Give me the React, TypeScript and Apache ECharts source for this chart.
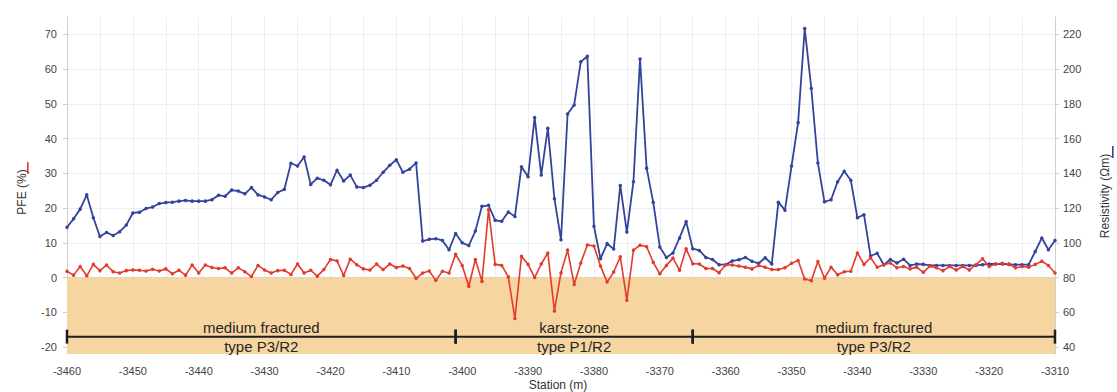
import React, { useEffect, useRef } from "react";
import * as echarts from "echarts";

// Station axis (m): first station and sampling step
const STATION_START = -3460;
const STATION_STEP = 1;

// PFE (%) per station, -3460 ... -3310
const PFE = [
  1.8, 0.7, 3.2, 0.5, 3.8, 2.0, 3.6, 1.7, 1.3, 2.0,
  2.2, 2.1, 1.9, 2.4, 1.9, 2.5, 1.1, 2.1, 0.7, 3.6,
  1.3, 3.6, 2.9, 2.6, 2.8, 1.3, 2.8, 1.7, 0.3, 3.5,
  2.2,
  1.3, 2.0, 2.1, 0.9, 3.9, 1.3, 2.1, 0.4, 2.3, 5.2,
  4.8, 0.6, 5.3, 3.7, 2.5, 2.2, 3.9, 2.3, 3.9, 2.9,
  3.3, 2.6, -0.2, 1.3, 1.9, -0.8, 1.8, 1.3, 6.7, 3.5,
  -2.5, 5.2, -1.1, 19.5, 3.8, 3.5, 0.2, -11.8, 6.1, 3.8,
  0.0, 3.9, 7.1, -9.6, 1.4, 7.9, -2.0, 4.2, 9.4, 9.1,
  3.3, -1.3, 1.6, 6.0, -6.5, 7.9, 9.3, 8.9, 4.4, 1.1,
  3.5, 5.6, 2.1, 8.3, 4.0, 3.9, 2.6, 2.6, 1.4, 3.7,
  3.6, 3.3, 3.0, 2.5, 3.5, 3.0, 2.3, 2.3, 2.8, 4.1,
  4.9, -0.4, -0.9, 4.6, -0.2, 3.0, 0.8, 1.7, 1.8, 7.1,
  3.8, 5.7, 3.0, 3.7, 4.2, 2.8, 3.2, 2.5, 3.0, 1.5,
  3.3, 2.8, 2.0, 3.2, 2.2, 3.2, 2.2, 3.7, 5.4, 3.2,
  3.9, 4.1, 3.9, 2.8, 3.2, 3.0, 3.8, 4.7, 3.5, 1.3,
];

// Resistivity (Ωm) per station, -3460 ... -3310
const RESISTIVITY = [
  109.0, 113.8, 119.4, 127.6, 114.4, 103.6, 106.0, 104.2, 106.4, 110.2,
  117.2, 117.6, 119.8, 120.6, 122.6, 123.2, 123.4, 124.0, 124.4, 124.0,
  124.0, 124.0, 124.8, 127.4, 126.8, 130.4, 129.8, 128.2, 131.8, 127.6,
  126.4,
  124.8, 129.0, 130.8, 145.8, 144.2, 149.4, 133.6, 137.2, 136.0, 133.4,
  141.8, 135.6, 139.0, 132.2, 131.8, 133.2, 136.0, 140.6, 144.6, 147.8,
  140.6, 142.4, 146.0, 101.0, 102.0, 102.4, 101.4, 96.0, 105.4, 100.0,
  98.4, 106.8, 121.0, 121.6, 113.0, 112.4, 117.8, 115.2, 143.8, 138.0,
  172.2, 139.0, 166.0, 125.4, 101.8, 174.2, 179.4, 204.2, 207.4, 109.6,
  90.8, 99.6, 96.4, 133.0, 106.2, 135.2, 205.8, 143.0, 123.4, 97.6,
  91.6, 94.2, 102.8, 112.2, 96.6, 95.6, 91.6, 90.4, 87.4, 87.4,
  89.6, 90.2, 91.6, 89.4, 88.2, 91.4, 87.8, 123.4, 118.8, 144.2,
  169.2, 223.4, 189.0, 146.0, 123.6, 124.8, 135.2, 141.2, 136.0, 114.4,
  116.2, 92.4, 94.0, 87.4, 90.4, 88.4, 90.6, 87.0, 87.8, 87.6,
  87.0, 87.0, 87.0, 87.0, 87.0, 87.0, 87.0, 87.0, 87.4, 87.8,
  87.8, 87.8, 87.6, 87.4, 87.4, 87.4, 95.0, 102.8, 96.0, 101.4,
];

// Interpretation zones
const ZONE_BOUNDS = [-3460, -3401, -3365, -3310];
const ZONE_NAMES = ["medium fractured", "karst-zone", "medium fractured"];
const ZONE_TYPES = ["type P3/R2", "type P1/R2", "type P3/R2"];
const ZONE_LEVEL = -17;

// Axis ranges / tick labels
const X_MIN = -3460;
const X_MAX = -3310;
const PFE_MIN = -22;
const PFE_MAX = 75;
const PFE_TICKS = [-20, -10, 0, 10, 20, 30, 40, 50, 60, 70];
const RES_MIN = 36;
const RES_MAX = 230;
const RES_TICKS = [40, 60, 80, 100, 120, 140, 160, 180, 200, 220];
const FILL_TOP = 0;

const FONT = "'Liberation Sans', Arial, Helvetica, sans-serif";
const RED = "#e23b2c";
const BLUE = "#34449a";

export default function App() {
  const ref = useRef<HTMLDivElement>(null);

  useEffect(() => {
    if (!ref.current) return;
    const chart = echarts.init(ref.current, undefined, { renderer: "svg" });

    const stations = PFE.map((_, i) => STATION_START + i * STATION_STEP);
    const pfeData = stations.map((s, i) => [s, PFE[i]]);
    const resData = stations.map((s, i) => [s, RESISTIVITY[i]]);
    const zoneData = ZONE_NAMES.map((_, i) => [ZONE_BOUNDS[i], ZONE_BOUNDS[i + 1], i, ZONE_LEVEL]);

    const axisLabelStyle = { color: "#444", fontSize: 11, fontFamily: FONT };

    chart.setOption({
      animation: false,
      backgroundColor: "#ffffff",
      grid: { left: 67, right: 62, top: 17, bottom: 38, containLabel: false },
      xAxis: {
        type: "value",
        min: X_MIN,
        max: X_MAX,
        interval: 5,
        axisLine: { show: true, lineStyle: { color: "#cfcfcf" } },
        axisTick: { show: true, length: 3, lineStyle: { color: "#cfcfcf" } },
        axisLabel: {
          ...axisLabelStyle,
          margin: 11,
          formatter: (v: number) => (v % 10 === 0 ? String(v) : ""),
        },
        splitLine: { show: true, lineStyle: { color: "#eceef3", width: 1 } },
      },
      yAxis: [
        {
          type: "value",
          position: "left",
          min: PFE_MIN,
          max: PFE_MAX,
          axisLine: { show: true, lineStyle: { color: "#cfcfcf" } },
          axisTick: { show: true, length: 4, customValues: PFE_TICKS, lineStyle: { color: "#cfcfcf" } },
          axisLabel: { ...axisLabelStyle, margin: 10, customValues: PFE_TICKS },
          splitLine: { show: true, lineStyle: { color: "#eceef3", width: 1 } },
        },
        {
          type: "value",
          position: "right",
          min: RES_MIN,
          max: RES_MAX,
          axisLine: { show: true, lineStyle: { color: "#cfcfcf" } },
          axisTick: { show: true, length: 4, customValues: RES_TICKS, lineStyle: { color: "#cfcfcf" } },
          axisLabel: { ...axisLabelStyle, margin: 8, customValues: RES_TICKS },
          splitLine: { show: false },
        },
      ],
      series: [
        {
          name: "Resistivity",
          type: "line",
          yAxisIndex: 1,
          data: resData,
          symbol: "circle",
          symbolSize: 3.5,
          showSymbol: true,
          itemStyle: { color: BLUE },
          lineStyle: { color: BLUE, width: 1.8 },
          z: 4,
        },
        {
          name: "PFE",
          type: "line",
          yAxisIndex: 0,
          data: pfeData,
          symbol: "circle",
          symbolSize: 3.5,
          showSymbol: true,
          itemStyle: { color: RED },
          lineStyle: { color: RED, width: 1.6 },
          z: 5,
          markArea: {
            silent: true,
            itemStyle: { color: "#f7d5a0" },
            data: [[{ xAxis: X_MIN, yAxis: FILL_TOP }, { xAxis: X_MAX, yAxis: PFE_MIN }]],
          },
        },
        {
          name: "Zones",
          type: "custom",
          yAxisIndex: 0,
          z: 6,
          encode: { x: [0, 1], y: 3 },
          data: zoneData,
          renderItem: (_params: any, api: any) => {
            const s = api.value(0);
            const e = api.value(1);
            const idx = api.value(2);
            const lvl = api.value(3);
            const p0 = api.coord([s, lvl]);
            const p1 = api.coord([e, lvl]);
            const mid = (p0[0] + p1[0]) / 2;
            const tickStyle = { stroke: "#1e1e1e", lineWidth: 2.5 };
            return {
              type: "group",
              children: [
                { type: "line", shape: { x1: p0[0], y1: p0[1], x2: p1[0], y2: p1[1] }, style: { stroke: "#1e1e1e", lineWidth: 2 } },
                { type: "line", shape: { x1: p0[0], y1: p0[1] - 7, x2: p0[0], y2: p0[1] + 7 }, style: tickStyle },
                { type: "line", shape: { x1: p1[0], y1: p1[1] - 7, x2: p1[0], y2: p1[1] + 7 }, style: tickStyle },
                {
                  type: "text",
                  x: mid,
                  y: p0[1] - 9,
                  style: { text: ZONE_NAMES[idx], fill: "#262626", fontSize: 15, fontFamily: FONT, align: "center", verticalAlign: "middle" },
                },
                {
                  type: "text",
                  x: mid,
                  y: p0[1] + 10,
                  style: { text: ZONE_TYPES[idx], fill: "#262626", fontSize: 15, fontFamily: FONT, align: "center", verticalAlign: "middle" },
                },
              ],
            };
          },
        },
      ],
      graphic: [
        {
          type: "text",
          x: 22,
          y: 192,
          rotation: Math.PI / 2,
          style: { text: "PFE (%)", fill: "#333", fontSize: 12, fontFamily: FONT, align: "center", verticalAlign: "middle" },
        },
        { type: "rect", shape: { x: 27, y: 162, width: 1.6, height: 12 }, style: { fill: RED } },
        {
          type: "text",
          x: 1105,
          y: 196,
          rotation: Math.PI / 2,
          style: { text: "Resistivity (Ωm)", fill: "#333", fontSize: 12, fontFamily: FONT, align: "center", verticalAlign: "middle" },
        },
        { type: "rect", shape: { x: 1112, y: 146, width: 1.6, height: 12 }, style: { fill: BLUE } },
        {
          type: "text",
          x: 558,
          y: 385,
          style: { text: "Station (m)", fill: "#333", fontSize: 12, fontFamily: FONT, align: "center", verticalAlign: "middle" },
        },
      ],
    });

    return () => chart.dispose();
  }, []);

  return <div ref={ref} style={{ position: "fixed", left: 0, top: 0, width: 1117, height: 392 }} />;
}
